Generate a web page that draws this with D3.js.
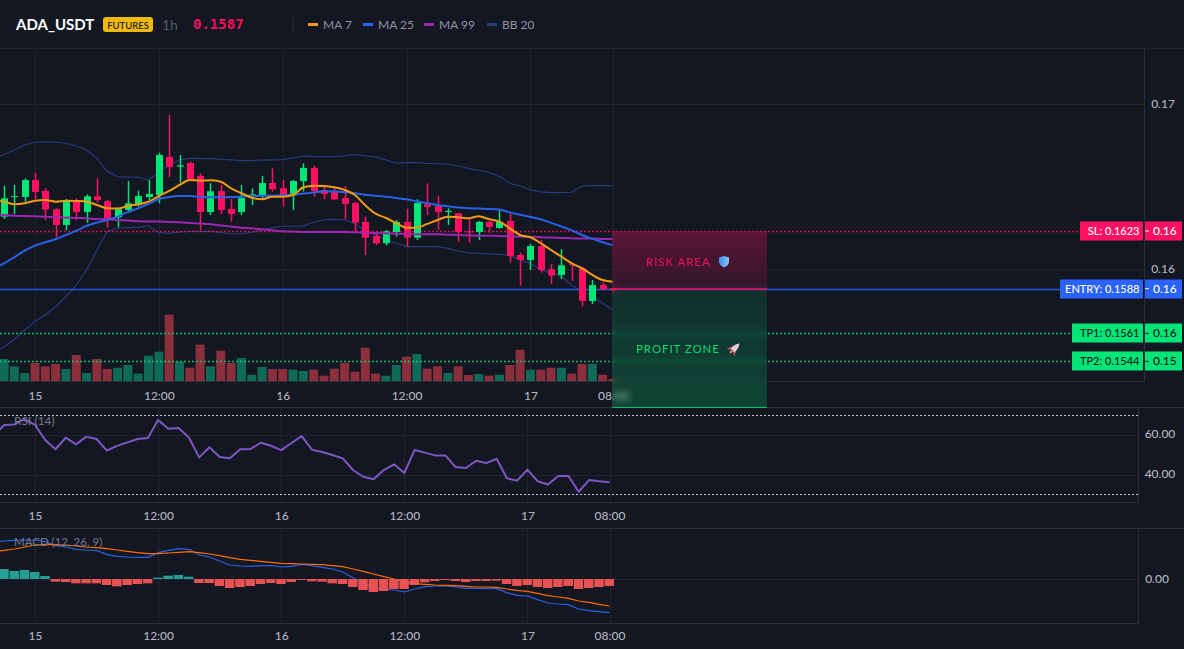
<!DOCTYPE html>
<html>
<head>
<meta charset="utf-8">
<script src="https://cdnjs.cloudflare.com/ajax/libs/d3/7.8.5/d3.min.js"></script>
<style>
  html, body { margin: 0; padding: 0; background: #131722; overflow: hidden; }
  #stage { position: relative; width: 1184px; height: 649px; font-family: Lato, "Noto Sans", sans-serif; }
  svg { position: absolute; left: 0; top: 0; }
  .zone { position: absolute; box-sizing: border-box; backdrop-filter: blur(3px); }
  .axis text { font-family: Lato, "Noto Sans", sans-serif; font-size: 12px; font-weight: 500; fill: #b2b5be; }
  .axis path, .axis line { display: none; }
</style>
</head>
<body>
<div id="stage"></div>
<script>
// Hourly ADA/USDT session; the first row sits just off the left edge so lines run to the border.
const opens = [.16330,.16317,.16436,.16436,.16539,.16473,.16362,.16267,.16406,.16345,.16440,.16410,.16313,.16358,.16388,.16436,.16448,.16679,.16620,.16642,.16564,.16345,.16471,.16364,.16345,.16440,.16448,.16521,.16489,.16455,.16533,.16612,.16479,.16465,.16430,.16400,.16285,.16200,.16156,.16224,.16285,.16190,.16392,.16382,.16347,.16337,.16228,.16224,.16285,.16248,.16291,.16085,.16055,.16139,.15998,.15964,.16028,.16004,.15806,.15903,.15883];
const highs = [.16450,.16503,.16509,.16549,.16584,.16489,.16368,.16424,.16428,.16452,.16549,.16418,.16368,.16533,.16475,.16539,.16705,.16933,.16691,.16650,.16580,.16519,.16509,.16424,.16509,.16489,.16564,.16610,.16539,.16539,.16640,.16624,.16503,.16495,.16503,.16408,.16317,.16220,.16236,.16297,.16364,.16422,.16519,.16442,.16368,.16341,.16307,.16291,.16291,.16358,.16337,.16099,.16152,.16176,.16030,.16119,.16030,.16014,.15933,.15919,.15885];
const lows = [.16300,.16303,.16333,.16408,.16424,.16297,.16190,.16236,.16297,.16281,.16402,.16250,.16253,.16347,.16378,.16418,.16398,.16556,.16523,.16539,.16236,.16327,.16333,.16287,.16327,.16388,.16422,.16469,.16378,.16358,.16469,.16438,.16424,.16418,.16301,.16226,.16085,.16145,.16143,.16196,.16135,.16176,.16327,.16236,.16267,.16166,.16160,.16176,.16220,.16244,.16038,.15899,.15994,.15978,.15909,.15939,.15927,.15772,.15788,.15869,.15863];
const closes = [.16400,.16428,.16442,.16539,.16467,.16360,.16267,.16412,.16345,.16440,.16418,.16301,.16362,.16398,.16442,.16455,.16691,.16618,.16628,.16543,.16345,.16471,.16358,.16333,.16430,.16452,.16521,.16483,.16448,.16533,.16612,.16473,.16455,.16422,.16394,.16281,.16190,.16156,.16228,.16285,.16190,.16400,.16376,.16345,.16351,.16224,.16222,.16285,.16255,.16285,.16079,.16055,.16139,.15994,.15960,.16022,.16022,.15806,.15903,.15877,.15870];
const volumes = [60,66,44,24,54,44,51,36,78,24,66,36,40,48,22,76,88,199,58,40,109,44,91,54,69,19,42,36,36,34,30,34,16,37,54,28,100,22,16,48,73,81,37,44,24,44,18,21,16,19,48,94,34,34,40,40,22,51,51,19,6];

const ma7 = [.16422,.16408,.16392,.16398,.16414,.16418,.16408,.16414,.16412,.16408,.16388,.16368,.16366,.16382,.16392,.16408,.16442,.16473,.16509,.16539,.16535,.16537,.16529,.16489,.16459,.16432,.16422,.16438,.16438,.16448,.16495,.16505,.16503,.16495,.16479,.16448,.16386,.16335,.16309,.16277,.16250,.16250,.16273,.16297,.16317,.16313,.16307,.16319,.16301,.16287,.16246,.16206,.16192,.16156,.16115,.16075,.16034,.16004,.15964,.15933,.15923];
const ma25 = [.16004,.16034,.16071,.16111,.16141,.16162,.16180,.16206,.16232,.16261,.16281,.16297,.16317,.16345,.16368,.16394,.16424,.16436,.16442,.16442,.16436,.16434,.16434,.16436,.16438,.16442,.16444,.16444,.16446,.16450,.16457,.16463,.16471,.16469,.16465,.16459,.16450,.16444,.16438,.16430,.16422,.16410,.16398,.16388,.16380,.16372,.16368,.16366,.16364,.16360,.16343,.16329,.16315,.16301,.16279,.16257,.16234,.16206,.16182,.16162,.16143];
const ma99 = [.16331,.16327,.16323,.16321,.16319,.16317,.16313,.16311,.16309,.16307,.16303,.16301,.16297,.16293,.16289,.16287,.16287,.16285,.16283,.16279,.16275,.16271,.16263,.16257,.16250,.16246,.16240,.16234,.16228,.16226,.16224,.16224,.16224,.16224,.16224,.16222,.16220,.16218,.16216,.16214,.16212,.16210,.16210,.16210,.16208,.16206,.16204,.16202,.16202,.16200,.16198,.16196,.16194,.16192,.16190,.16188,.16186,.16184,.16184,.16182,.16182];
const bbUpper = [.16671,.16695,.16721,.16751,.16768,.16772,.16768,.16762,.16745,.16721,.16671,.16590,.16560,.16556,.16556,.16539,.16584,.16630,.16661,.16671,.16669,.16669,.16665,.16661,.16657,.16657,.16659,.16661,.16663,.16673,.16685,.16681,.16681,.16681,.16685,.16695,.16685,.16679,.16661,.16642,.16646,.16644,.16640,.16638,.16636,.16624,.16610,.16598,.16584,.16560,.16519,.16503,.16479,.16467,.16463,.16463,.16465,.16503,.16505,.16505,.16503];
const bbLower = [.15489,.15529,.15574,.15630,.15681,.15721,.15772,.15832,.15903,.15994,.16115,.16226,.16248,.16250,.16253,.16261,.16220,.16216,.16224,.16228,.16228,.16228,.16220,.16212,.16212,.16222,.16236,.16250,.16259,.16259,.16261,.16283,.16297,.16301,.16297,.16277,.16226,.16206,.16176,.16156,.16135,.16135,.16135,.16135,.16125,.16109,.16099,.16095,.16091,.16089,.16081,.16055,.16034,.15994,.15978,.15954,.15903,.15863,.15832,.15792,.15752];

const rsi = [60.0,65.1,65.4,68.1,65.1,57.5,52.8,58.7,55.3,59.2,58.0,52.1,54.5,56.3,58.0,58.5,67.6,63.2,63.6,58.8,48.7,53.8,48.9,48.2,52.8,52.9,56.1,54.6,52.4,56.0,59.5,52.6,51.4,49.9,48.2,42.3,38.9,37.6,42.3,45.2,40.8,52.4,51.1,49.7,49.7,43.8,43.3,47.0,45.8,48.0,38.1,36.9,42.5,36.6,35.0,39.3,39.3,31.3,37.2,36.6,36.1];

const macdLine = [.00112,.00114,.00116,.00117,.00117,.00112,.00100,.00096,.00089,.00087,.00086,.00074,.00068,.00066,.00065,.00065,.00079,.00086,.00091,.00089,.00072,.00066,.00054,.00042,.00039,.00038,.00040,.00040,.00036,.00038,.00044,.00040,.00035,.00030,.00021,.00004,-.00014,-.00026,-.00031,-.00033,-.00039,-.00030,-.00023,-.00021,-.00020,-.00024,-.00028,-.00028,-.00028,-.00029,-.00041,-.00049,-.00051,-.00062,-.00072,-.00075,-.00077,-.00090,-.00095,-.00098,-.00101];
const macdSignal = [.00082,.00086,.00090,.00096,.00102,.00104,.00103,.00102,.00099,.00096,.00094,.00091,.00087,.00083,.00079,.00076,.00076,.00078,.00080,.00082,.00079,.00075,.00070,.00064,.00059,.00056,.00053,.00050,.00047,.00046,.00045,.00044,.00043,.00040,.00037,.00030,.00023,.00015,.00007,.00000,-.00008,-.00014,-.00016,-.00018,-.00019,-.00020,-.00022,-.00024,-.00024,-.00025,-.00030,-.00034,-.00037,-.00043,-.00050,-.00054,-.00058,-.00066,-.00070,-.00076,-.00081];
const macdHist = [.00030,.00030,.00024,.00027,.00021,.00009,-.00008,-.00009,-.00013,-.00013,-.00013,-.00018,-.00022,-.00018,-.00015,-.00013,.00004,.00010,.00012,.00007,-.00012,-.00012,-.00021,-.00027,-.00024,-.00021,-.00015,-.00012,-.00015,-.00009,-.00003,-.00007,-.00008,-.00013,-.00015,-.00024,-.00033,-.00039,-.00036,-.00030,-.00030,-.00018,-.00010,-.00006,-.00003,-.00006,-.00009,-.00006,-.00006,-.00005,-.00015,-.00021,-.00018,-.00024,-.00027,-.00024,-.00021,-.00030,-.00027,-.00024,-.00021];

const timeTickRows = [4, 16, 28, 40, 52, 60];
const timeTickLabels = ["15", "12:00", "16", "12:00", "17", "08:00"];
const priceTicks = [0.16, 0.17];
const rsiTicks = [40, 60];
const rsiBands = [30, 70];
const macdTicks = [0];
const levels = [
  { tag: "SL", price: 0.1623, shown: "0.1623", axis: "0.16", color: "#ff1060", text: "#fff", left: 1080, dash: "2,2" },
  { tag: "ENTRY", price: 0.1588, shown: "0.1588", axis: "0.16", color: "#2962ff", text: "#fff", left: 1060, dash: null },
  { tag: "TP1", price: 0.1561, shown: "0.1561", axis: "0.16", color: "#00e676", text: "#131722", left: 1072, dash: "2,2" },
  { tag: "TP2", price: 0.1544, shown: "0.1544", axis: "0.15", color: "#00e676", text: "#131722", left: 1072, dash: "2,2" }
];
const legendNames = ["MA 7", "MA 25", "MA 99", "BB 20"];
const legendColors = ["#f39c12", "#2962ff", "#9c27b0", "#2a3a7d"];
const legendX = [308, 363, 424, 487];

const GRID = "#1f2430", BORDER = "#2a2e39";
const UP = "#00e676", DOWN = "#ff1060";
const rows = d3.range(opens.length);

const xMain = d3.scaleLinear().domain([4, 60]).range([35, 613]);
const xPane = d3.scaleLinear().domain([4, 60]).range([35, 609.5]);
const yPrice = d3.scaleLinear().domain([0.15321, 0.17327]).range([381, 50]);
const yVolume = d3.scaleLinear().domain([0, 200]).range([381, 314.3]);
const yRsi = d3.scaleLinear().domain([26.1, 73.7]).range([502, 408]);
const yMacd = d3.scaleLinear().domain([-0.00132, 0.00153]).range([623, 528]);

const stage = d3.select("#stage");
const svg = stage.append("svg").attr("width", 1184).attr("height", 649);
const defs = svg.append("defs");
[["mainClip", 0, 50, 1145, 331], ["rsiClip", 0, 408, 1138, 94], ["macdClip", 0, 528, 1138, 95]].forEach(c => {
  defs.append("clipPath").attr("id", c[0]).append("rect")
    .attr("x", c[1]).attr("y", c[2]).attr("width", c[3]).attr("height", c[4]);
});

function hLine(g, y, x1, x2, color) {
  g.append("line").attr("x1", x1).attr("x2", x2).attr("y1", y).attr("y2", y).attr("stroke", color);
}
function vGrid(g, scale, y1, y2) {
  g.selectAll(null).data(timeTickRows).join("line")
    .attr("x1", d => Math.round(scale(d)) + .5).attr("x2", d => Math.round(scale(d)) + .5)
    .attr("y1", y1).attr("y2", y2).attr("stroke", GRID);
}
function timeAxis(scale, y) {
  const axis = d3.axisBottom(scale).tickValues(timeTickRows)
    .tickFormat((d, i) => timeTickLabels[i]).tickSize(0).tickPadding(0);
  const g = svg.append("g").attr("class", "axis").attr("transform", `translate(0,${y})`).call(axis);
  g.selectAll("text").attr("dy", "0.35em").attr("y", 0);
  return g;
}
function valueAxis(scale, ticks, fmt, x, nudge) {
  const axis = d3.axisRight(scale).tickValues(ticks).tickFormat(d3.format(fmt)).tickSize(0).tickPadding(0);
  const g = svg.append("g").attr("class", "axis").attr("transform", `translate(${x},${nudge || 0})`).call(axis);
  g.selectAll("text").attr("text-anchor", "middle").attr("x", 0);
}
function linePath(g, scale, yScale, values, color, width, curve) {
  const gen = d3.line().x(i => scale(i)).y(i => yScale(values[i]));
  if (curve) gen.curve(curve);
  g.append("path").attr("d", gen(rows)).attr("fill", "none")
    .attr("stroke", color).attr("stroke-width", width).attr("stroke-linejoin", "round");
}

/* Header row */
const header = svg.append("g");
hLine(header, 48.5, 0, 1184, "#1e222d");
header.append("text").attr("x", 16).attr("y", 29.5).text("ADA_USDT")
  .attr("fill", "#fff").attr("font-size", 15).attr("font-weight", 700);
header.append("rect").attr("x", 103).attr("y", 17).attr("width", 50).attr("height", 15).attr("rx", 3).attr("fill", "#f0b90b");
header.append("text").attr("x", 128).attr("y", 28.5).attr("text-anchor", "middle").text("FUTURES")
  .attr("fill", "#131722").attr("font-size", 9.5).attr("font-weight", 500);
header.append("text").attr("x", 162).attr("y", 29.5).text("1h").attr("fill", "#565c6b").attr("font-size", 14);
header.append("text").attr("x", 193).attr("y", 29).text("0.1587")
  .attr("fill", "#f0105a").attr("font-size", 14).attr("font-weight", 700).attr("font-family", "'DejaVu Sans Mono', monospace");
header.append("line").attr("x1", 293).attr("x2", 293).attr("y1", 17).attr("y2", 32).attr("stroke", BORDER);
legendNames.forEach((name, i) => {
  header.append("rect").attr("x", legendX[i]).attr("y", 23).attr("width", 10).attr("height", 3).attr("fill", legendColors[i]);
  header.append("text").attr("x", legendX[i] + 15).attr("y", 28.5).text(name).attr("fill", "#8f94a1").attr("font-size", 12);
});

/* Price pane */
const grid = svg.append("g");
vGrid(grid, xMain, 50, 381);
priceTicks.forEach(p => hLine(grid, Math.round(yPrice(p)) + .5, 0, 1145, GRID));
hLine(grid, 381.5, 0, 1145, BORDER);
grid.append("line").attr("x1", 1144.5).attr("x2", 1144.5).attr("y1", 49).attr("y2", 382).attr("stroke", BORDER);

const main = svg.append("g").attr("clip-path", "url(#mainClip)");
main.selectAll(null).data(rows).join("rect")
  .attr("x", i => xMain(i) - 4.5).attr("width", 9)
  .attr("y", i => yVolume(volumes[i])).attr("height", i => yVolume(0) - yVolume(volumes[i]))
  .attr("fill", i => closes[i] >= opens[i] ? "#0f6a58" : "#8c2f3c");

linePath(main, xMain, yPrice, bbUpper, "#2a3a7d", 1.2);
linePath(main, xMain, yPrice, bbLower, "#2a3a7d", 1.2);

levels.forEach(l => {
  const y = Math.round(yPrice(l.price)) + .5;
  main.append("line").attr("x1", 0).attr("x2", l.left).attr("y1", y).attr("y2", y)
    .attr("stroke", l.color).attr("stroke-width", 1.4)
    .attr("stroke-opacity", l.dash ? .8 : .85).attr("stroke-dasharray", l.dash);
});

main.selectAll(null).data(rows).join("line")
  .attr("x1", i => Math.round(xMain(i)) + .5).attr("x2", i => Math.round(xMain(i)) + .5)
  .attr("y1", i => yPrice(highs[i])).attr("y2", i => yPrice(lows[i]))
  .attr("stroke-width", 1.5)
  .attr("stroke", i => closes[i] >= opens[i] ? UP : DOWN);
main.selectAll(null).data(rows).join("rect")
  .attr("x", i => Math.round(xMain(i)) - 3).attr("width", 7)
  .attr("y", i => yPrice(Math.max(opens[i], closes[i])))
  .attr("height", i => Math.max(1, Math.abs(yPrice(opens[i]) - yPrice(closes[i]))))
  .attr("fill", i => closes[i] >= opens[i] ? UP : DOWN);

linePath(main, xMain, yPrice, ma99, "#9c27b0", 2, d3.curveMonotoneX);
linePath(main, xMain, yPrice, ma25, "#2962e8", 2, d3.curveMonotoneX);
linePath(main, xMain, yPrice, ma7, "#f39c12", 2, d3.curveMonotoneX);

valueAxis(yPrice, priceTicks, ".2f", 1163);
timeAxis(xMain, 396);

/* Level tags on the price axis */
const tags = svg.append("g");
levels.forEach(l => {
  const y = yPrice(l.price);
  const top = Math.round(y) - 9.5;
  tags.append("rect").attr("x", l.left).attr("y", top).attr("width", 1143 - l.left).attr("height", 19).attr("fill", l.color);
  tags.append("rect").attr("x", 1145).attr("y", top).attr("width", 37).attr("height", 19).attr("fill", l.color);
  tags.append("text").attr("x", 1139.5).attr("y", y + 4).attr("text-anchor", "end")
    .text(`${l.tag}: ${l.shown}`).attr("fill", l.text).attr("font-size", 11).attr("font-weight", 500);
  tags.append("line").attr("x1", 1145).attr("x2", 1149).attr("y1", y).attr("y2", y).attr("stroke", l.text);
  tags.append("text").attr("x", 1153).attr("y", y + 4).text(l.axis)
    .attr("fill", l.text).attr("font-size", 12).attr("font-weight", 500);
});

/* RSI pane */
const rsiGrid = svg.append("g");
hLine(rsiGrid, 407.5, 0, 1184, BORDER);
hLine(rsiGrid, 502.5, 0, 1138, BORDER);
vGrid(rsiGrid, xPane, 408, 502);
rsiTicks.forEach(t => hLine(rsiGrid, Math.round(yRsi(t)) + .5, 0, 1138, GRID));
rsiGrid.append("line").attr("x1", 1138.5).attr("x2", 1138.5).attr("y1", 408).attr("y2", 503).attr("stroke", BORDER);
rsiBands.forEach(b => {
  rsiGrid.append("line").attr("x1", 0).attr("x2", 1138)
    .attr("y1", Math.round(yRsi(b)) + .5).attr("y2", Math.round(yRsi(b)) + .5)
    .attr("stroke", "#c8ccd6").attr("stroke-dasharray", "2,2");
});
const rsiG = svg.append("g").attr("clip-path", "url(#rsiClip)");
linePath(rsiG, xPane, yRsi, rsi, "#7e57c2", 2);
svg.append("text").attr("x", 14).attr("y", 425).text("RSI (14)").attr("fill", "#757a88").attr("font-size", 12);
valueAxis(yRsi, rsiTicks, ".2f", 1160, -1);
timeAxis(xPane, 516);

/* MACD pane */
const macdGrid = svg.append("g");
hLine(macdGrid, 528.5, 0, 1184, BORDER);
hLine(macdGrid, 623.5, 0, 1138, BORDER);
vGrid(macdGrid, xPane, 529, 623);
macdTicks.forEach(t => hLine(macdGrid, Math.round(yMacd(t)) + .5, 0, 1138, GRID));
macdGrid.append("line").attr("x1", 1138.5).attr("x2", 1138.5).attr("y1", 528).attr("y2", 624).attr("stroke", BORDER);
const macdG = svg.append("g").attr("clip-path", "url(#macdClip)");
linePath(macdG, xPane, yMacd, macdLine, "#2962e8", 1.2);
linePath(macdG, xPane, yMacd, macdSignal, "#ff6d00", 1.2);
macdG.selectAll(null).data(rows).join("rect")
  .attr("x", i => xPane(i) - 5).attr("width", 9.5)
  .attr("y", i => yMacd(Math.max(0, macdHist[i])))
  .attr("height", i => Math.abs(yMacd(macdHist[i]) - yMacd(0)))
  .attr("fill", i => macdHist[i] >= 0 ? "#26a69a" : "#f45555").attr("fill-opacity", .95);
svg.append("text").attr("x", 14).attr("y", 546).text("MACD (12, 26, 9)").attr("fill", "#757a88").attr("font-size", 11.5);
valueAxis(yMacd, macdTicks, ".2f", 1157);
timeAxis(xPane, 636);

/* Risk and reward blocks sit over the price pane and blur what lies beneath them */
const entryY = Math.round(yPrice(0.1588));
const stopY = Math.round(yPrice(0.1623));
const zoneLeft = 612, zoneWidth = 155;
stage.append("div").attr("class", "zone").style("left", zoneLeft + "px").style("top", stopY + "px")
  .style("width", zoneWidth + "px").style("height", (entryY - stopY + 1) + "px")
  .style("background", "linear-gradient(180deg, rgba(255,16,96,.30), rgba(255,16,96,.13))")
  .style("border-bottom", "2px solid rgba(255,16,96,.65)");
stage.append("div").attr("class", "zone").style("left", zoneLeft + "px").style("top", (entryY + 1) + "px")
  .style("width", zoneWidth + "px").style("height", (407 - entryY) + "px")
  .style("background", "linear-gradient(180deg, rgba(0,230,118,.12), rgba(0,230,118,.22))")
  .style("border-bottom", "1.5px solid rgba(0,230,118,.8)");

const over = stage.append("svg").attr("width", 1184).attr("height", 649);
over.append("text").attr("x", 646).attr("y", 265.5).text("RISK AREA")
  .attr("fill", "#e8105a").attr("font-size", 11.5).attr("font-weight", 500).attr("letter-spacing", .9);
const shieldFill = defs.append("linearGradient").attr("id", "shieldFill");
shieldFill.append("stop").attr("offset", 0).attr("stop-color", "#3f8fe8");
shieldFill.append("stop").attr("offset", 1).attr("stop-color", "#8cc4f2");
over.append("path").attr("d", "M724 256 L729 257.5 L729 262 Q728.5 265.5 724 267.5 Q719.5 265.5 719 262 L719 257.5 Z")
  .attr("fill", "url(#shieldFill)");
over.append("text").attr("x", 636).attr("y", 352.5).text("PROFIT ZONE")
  .attr("fill", "#00d96f").attr("font-size", 11.5).attr("font-weight", 500).attr("letter-spacing", .9);
const rocket = over.append("g").attr("transform", "translate(734,349) rotate(45) scale(1.1)");
rocket.append("path").attr("d", "M-2.5 0 L-5 4.5 L-2 3 Z M2.5 0 L5 4.5 L2 3 Z").attr("fill", "#e0507a");
rocket.append("path").attr("d", "M0 -7 Q3 -3.5 2.5 2 L-2.5 2 Q-3 -3.5 0 -7 Z").attr("fill", "#eec6d6");
rocket.append("path").attr("d", "M-1.5 2.5 L1.5 2.5 L0 6 Z").attr("fill", "#f08a5a");
</script>
</body>
</html>
